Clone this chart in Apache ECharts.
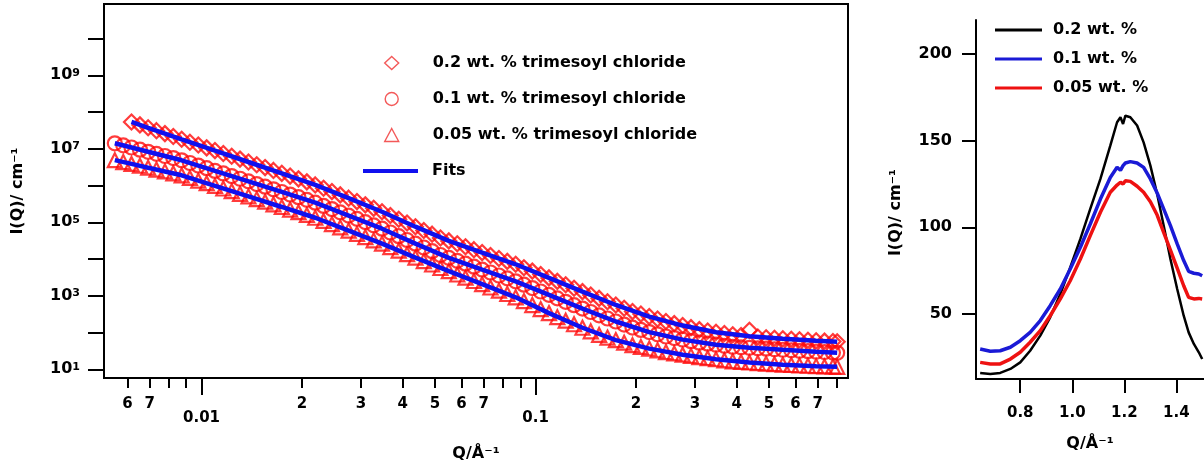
<!DOCTYPE html>
<html>
<head>
<meta charset="utf-8">
<script src="https://cdn.jsdelivr.net/npm/echarts@6/dist/echarts.min.js"></script>
<style>
  html, body { margin: 0; padding: 0; background: #fff; }
  #chart { width: 1204px; height: 468px; }
</style>
</head>
<body>
<div id="chart"></div>
<script>
// SANS curves (left), Q in 1/A, I in 1/cm
const sansQ = [0.0055, 0.00583, 0.00617, 0.00654, 0.00692, 0.00733, 0.00777, 0.00823, 0.00872, 0.00923,
  0.00978, 0.01036, 0.01097, 0.01162, 0.01231, 0.01304, 0.01382, 0.01463, 0.0155, 0.01642,
  0.01739, 0.01842, 0.01951, 0.02067, 0.0219, 0.02319, 0.02457, 0.02602, 0.02757, 0.0292,
  0.03093, 0.03276, 0.0347, 0.03676, 0.03894, 0.04124, 0.04369, 0.04628, 0.04902, 0.05192,
  0.055, 0.0583, 0.0617, 0.0654, 0.0692, 0.0733, 0.0777, 0.0823, 0.0872, 0.0923,
  0.0978, 0.1036, 0.1097, 0.1162, 0.1231, 0.1304, 0.1382, 0.1463, 0.155, 0.1642,
  0.1739, 0.1842, 0.1951, 0.2067, 0.219, 0.2319, 0.2457, 0.2602, 0.2757, 0.292,
  0.3093, 0.3276, 0.347, 0.3676, 0.3894, 0.4124, 0.4369, 0.4628, 0.4902, 0.5192,
  0.55, 0.583, 0.617, 0.654, 0.692, 0.733, 0.777, 0.80]
const sans02 = [null, null, 5.36e7, 4.47e7, 3.73e7, 3.11e7, 2.59e7, 2.16e7, 1.81e7, 1.51e7,
  1.27e7, 1.06e7, 8.94e6, 7.45e6, 6.25e6, 5.24e6, 4.37e6, 3.67e6, 3.08e6, 2.58e6,
  2.15e6, 1.81e6, 1.52e6, 1.26e6, 1.04e6, 8.47e5, 6.85e5, 5.57e5, 4.53e5, 3.66e5,
  2.98e5, 2.40e5, 1.94e5, 1.53e5, 1.21e5, 9.57e4, 7.59e4, 5.98e4, 4.75e4, 3.74e4,
  3.12e4, 2.60e4, 2.17e4, 1.80e4, 1.50e4, 1.25e4, 1.035e4, 8630, 7200, 5820,
  4700, 3800, 3070, 2470, 1990, 1610, 1300, 1050, 850, 687,
  562, 457, 372, 318, 272, 234, 200, 175, 155, 136,
  120, 110, 102, 94.2, 86.9, 83.2, 115, 75.7, 72.4, 69.8,
  67.6, 65.5, 63.5, 61.9, 60.0, 58.5, 56.8, 56.0]
const sans01 = [1.41e7, 1.24e7, 1.085e7, 9.45e6, 8.29e6, 7.27e6, 6.37e6, 5.58e6, 4.86e6, 4.11e6,
  3.49e6, 2.97e6, 2.50e6, 2.13e6, 1.81e6, 1.53e6, 1.30e6, 1.095e6, 9.30e5, 7.91e5,
  6.68e5, 5.67e5, 4.82e5, 4.07e5, 3.42e5, 2.79e5, 2.29e5, 1.86e5, 1.52e5, 1.24e5,
  1.01e5, 8.24e4, 6.70e4, 5.28e4, 4.19e4, 3.30e4, 2.62e4, 2.06e4, 1.64e4, 1.29e4,
  1.075e4, 8970, 7470, 6190, 5160, 4310, 3570, 2980, 2480, 2010,
  1620, 1310, 1060, 850, 687, 555, 449, 362, 293, 241,
  200, 165, 136, 118, 103, 89.7, 78.1, 70.7, 64.3, 58.2,
  53.0, 49.8, 46.7, 43.6, 41.0, 39.7, 38.5, 37.3, 36.4, 35.0,
  34.0, 32.9, 31.9, 31.1, 30.1, 29.4, 28.5, 28.1]
const sans005 = [4.90e6, 4.35e6, 3.88e6, 3.45e6, 3.06e6, 2.72e6, 2.43e6, 2.15e6, 1.90e6, 1.61e6,
  1.36e6, 1.16e6, 9.78e5, 8.31e5, 7.06e5, 5.96e5, 5.07e5, 4.28e5, 3.64e5, 3.09e5,
  2.61e5, 2.22e5, 1.88e5, 1.59e5, 1.33e5, 1.09e5, 8.93e4, 7.27e4, 5.95e4, 4.84e4,
  3.96e4, 3.22e4, 2.63e4, 2.12e4, 1.70e4, 1.36e4, 1.095e4, 8800, 7110, 5710,
  4670, 3800, 3110, 2530, 2070, 1680, 1380, 1120, 911, 718,
  559, 435, 338, 263, 210, 168, 135, 108, 86.4, 72.9,
  62.3, 53.0, 45.3, 40.7, 36.6, 32.9, 29.4, 27.1, 25.0, 23.2,
  21.3, 20.1, 18.8, 17.6, 16.5, 15.9, 15.3, 14.8, 14.2, 13.8,
  13.4, 13.1, 12.7, 12.5, 12.2, 12.0, 11.9, 11.7]

// model fits
const fitQ = [0.0055, 0.00617, 0.00692, 0.00872, 0.01097, 0.01382, 0.01739, 0.0219, 0.02757, 0.0347,
  0.04369, 0.055, 0.0692, 0.0872, 0.1097, 0.1382, 0.1739, 0.219, 0.2757, 0.347,
  0.4369, 0.55, 0.692, 0.80]
const fit02 = [null, 5.36e7, 3.73e7, 1.81e7, 8.94e6, 4.37e6, 2.15e6, 1.04e6, 4.53e5, 1.94e5,
  7.59e4, 3.12e4, 1.50e4, 7200, 3070, 1300, 562, 272, 155, 102,
  79.6, 67.6, 60.0, 56.0]
const fit01 = [1.41e7, 1.085e7, 8.29e6, 4.86e6, 2.50e6, 1.30e6, 6.68e5, 3.42e5, 1.52e5, 6.70e4,
  2.62e4, 1.075e4, 5160, 2480, 1060, 449, 200, 103, 64.3, 46.7,
  38.5, 34.0, 30.1, 28.1]
const fit005 = [4.90e6, 3.88e6, 3.06e6, 1.90e6, 9.78e5, 5.07e5, 2.61e5, 1.33e5, 5.95e4, 2.63e4,
  1.095e4, 4670, 2070, 911, 338, 135, 62.3, 36.6, 25.0, 18.8,
  15.3, 13.4, 12.2, 11.7]

// WAXS peak (right)
const waxsQ = [0.646, 0.685, 0.723, 0.762, 0.800, 0.838, 0.877, 0.915, 0.954, 0.992,
  1.031, 1.069, 1.108, 1.146, 1.172, 1.185, 1.195, 1.204, 1.223, 1.249,
  1.274, 1.300, 1.326, 1.351, 1.377, 1.403, 1.428, 1.447, 1.467, 1.486, 1.499]
const waxs02 = [16.0, 15.4, 16.0, 18.3, 22.1, 28.8, 37.5, 48.1, 61.5, 76.9,
  93.3, 110.6, 127.9, 147.1, 160.6, 163.5, 159.6, 164.4, 163.5, 158.7,
  149.0, 135.6, 119.2, 101.0, 81.7, 64.4, 49.0, 39.4, 32.7, 27.9, 24.0]
const waxs01 = [29.8, 28.5, 28.8, 30.8, 34.6, 39.4, 46.2, 54.8, 64.4, 76.0,
  88.5, 101.9, 116.3, 128.8, 134.6, 132.9, 135.6, 137.1, 137.9, 137.1,
  134.6, 127.9, 119.8, 110.6, 101.0, 90.4, 80.8, 74.6, 73.5, 73.1, 72.1]
const waxs005 = [22.1, 21.2, 21.2, 24.0, 27.9, 33.7, 40.4, 49.0, 58.7, 69.2,
  81.7, 95.2, 108.7, 120.2, 124.4, 126.0, 125.0, 126.9, 126.5, 123.7,
  120.2, 114.8, 107.1, 97.1, 86.9, 76.5, 66.3, 59.6, 58.7, 59.0, 58.7]

// ticks
const qMajorTicks = [0.01, 0.1]
const qMinorTicks = [0.006, 0.007, 0.008, 0.009, 0.02, 0.03, 0.04, 0.05, 0.06, 0.07, 0.08, 0.09,
  0.2, 0.3, 0.4, 0.5, 0.6, 0.7, 0.8]
const qMinorLabels = [0.006, 0.007, 0.02, 0.03, 0.04, 0.05, 0.06, 0.07, 0.2, 0.3, 0.4, 0.5, 0.6, 0.7]
const iTicks = [1e1, 1e2, 1e3, 1e4, 1e5, 1e6, 1e7, 1e8, 1e9, 1e10]
const iLabels = [1e1, 1e3, 1e5, 1e7, 1e9]
const waxsQTicks = [0.8, 1.0, 1.2, 1.4]
const waxsITicks = [50, 100, 150, 200]

const FONT = 'DejaVu Sans'
const RED = '#ff0a0a'
const BLUE = '#1010ee'

function pairs(xs, ys) {
  return xs.map((x, i) => [x, ys[i]]).filter(p => p[1] != null)
}

function txt(size) {
  return { fontFamily: FONT, fontWeight: 'bold', fontSize: size, color: '#000' }
}

const axisLine = { show: true, onZero: false, lineStyle: { color: '#000', width: 2 } }
const tickStyle = { color: '#000', width: 2 }

const redMarker = { color: 'rgba(255,255,255,0)', borderColor: RED, borderWidth: 2.2 }

const option = {
  animation: false,
  backgroundColor: '#fff',
  grid: [
    { left: 104, top: 4, right: 356, bottom: 90, show: true, borderColor: '#000', borderWidth: 2 },
    { left: 976, top: 20, right: 0, bottom: 89 }
  ],
  legend: [
    {
      // marker entries
      left: 379, top: 49, orient: 'vertical', selectedMode: false,
      itemWidth: 14, itemHeight: 13, itemGap: 18,
      itemStyle: { borderWidth: 1.4, borderColor: '#f03030' },
      data: ['0.2 wt. % trimesoyl chloride', '0.1 wt. % trimesoyl chloride',
        '0.05 wt. % trimesoyl chloride'],
      textStyle: Object.assign(txt(16), { lineHeight: 18, padding: [0, 0, 0, 29] })
    },
    {
      // fits entry
      left: 358, top: 157, orient: 'vertical', selectedMode: false,
      itemWidth: 55, itemHeight: 4,
      data: [{ name: 'Fits', icon: 'rect' }],
      textStyle: Object.assign(txt(16), { lineHeight: 18, padding: [0, 0, 0, 9] })
    },
    {
      left: 990, top: 16, orient: 'vertical', selectedMode: false,
      itemWidth: 47, itemHeight: 3, itemGap: 11,
      data: [{ name: '0.2 wt. %', icon: 'rect' }, { name: '0.1 wt. %', icon: 'rect' },
        { name: '0.05 wt. %', icon: 'rect' }],
      textStyle: Object.assign(txt(16), { lineHeight: 18, padding: [0, 0, 0, 6] })
    }
  ],
  xAxis: [
    {
      type: 'log', logBase: 10, gridIndex: 0, min: 0.005105, max: 0.862,
      name: 'Q/\u00c5\u207b\u00b9', nameLocation: 'middle', nameGap: 68, nameTextStyle: txt(16),
      axisLine: axisLine,
      axisTick: { show: true, inside: false, length: 17, lineStyle: tickStyle, customValues: qMajorTicks },
      axisLabel: { show: true, margin: 33, customValues: qMajorTicks, textStyle: txt(15),
        formatter: v => (v < 0.05 ? '0.01' : '0.1') },
      splitLine: { show: false }, minorTick: { show: false }
    },
    {
      type: 'log', logBase: 10, gridIndex: 0, min: 0.005105, max: 0.862, position: 'bottom',
      axisLine: { show: false },
      axisTick: { show: true, inside: false, length: 10, lineStyle: tickStyle, customValues: qMinorTicks },
      axisLabel: { show: true, margin: 19, customValues: qMinorLabels, textStyle: txt(15),
        formatter: v => String(Math.round(v / Math.pow(10, Math.floor(Math.log10(v) + 1e-9)))) },
      splitLine: { show: false }
    },
    {
      type: 'value', gridIndex: 1, min: 0.63, max: 1.506,
      name: 'Q/\u00c5\u207b\u00b9', nameLocation: 'middle', nameGap: 57, nameTextStyle: txt(16),
      axisLine: axisLine,
      axisTick: { show: true, inside: false, length: 14, lineStyle: tickStyle, customValues: waxsQTicks },
      axisLabel: { show: true, margin: 27, customValues: waxsQTicks, textStyle: txt(15),
        formatter: v => v.toFixed(1) },
      splitLine: { show: false }
    }
  ],
  yAxis: [
    {
      type: 'log', logBase: 10, gridIndex: 0, min: 5.8, max: 8.7e10,
      name: 'I(Q)/ cm\u207b\u00b9', nameLocation: 'middle', nameGap: 78, nameTextStyle: txt(16),
      axisLine: axisLine,
      axisTick: { show: true, inside: false, length: 16, lineStyle: tickStyle, customValues: iTicks },
      axisLabel: {
        show: true, margin: 24, customValues: iLabels,
        formatter: v => '{b|10}{s|' + Math.round(Math.log10(v)) + '}',
        rich: {
          b: txt(16),
          s: Object.assign(txt(11), { lineHeight: 8, verticalAlign: 'top' })
        }
      },
      splitLine: { show: false }
    },
    {
      type: 'value', gridIndex: 1, min: 12.5, max: 219.6,
      name: 'I(Q)/ cm\u207b\u00b9', nameLocation: 'middle', nameGap: 72,
      nameTextStyle: Object.assign(txt(16), { padding: [0, 26, 0, 0] }),
      axisLine: axisLine,
      axisTick: { show: true, inside: false, length: 14, lineStyle: tickStyle, customValues: waxsITicks },
      axisLabel: { show: true, margin: 24, customValues: waxsITicks, textStyle: txt(16) },
      splitLine: { show: false }
    }
  ],
  series: [
    // measured SANS data, hollow red markers
    { name: '0.2 wt. % trimesoyl chloride', type: 'scatter', xAxisIndex: 0, yAxisIndex: 0,
      symbol: 'diamond', symbolSize: 15, itemStyle: redMarker, data: pairs(sansQ, sans02) },
    { name: '0.1 wt. % trimesoyl chloride', type: 'scatter', xAxisIndex: 0, yAxisIndex: 0,
      symbol: 'circle', symbolSize: 14, itemStyle: redMarker, data: pairs(sansQ, sans01) },
    { name: '0.05 wt. % trimesoyl chloride', type: 'scatter', xAxisIndex: 0, yAxisIndex: 0,
      symbol: 'triangle', symbolSize: 14, itemStyle: redMarker, data: pairs(sansQ, sans005) },
    // fits
    { name: 'Fits', type: 'line', xAxisIndex: 0, yAxisIndex: 0, symbol: 'none', z: 5,
      lineStyle: { color: BLUE, width: 4.5 }, itemStyle: { color: BLUE }, data: pairs(fitQ, fit02) },
    { name: 'Fits', type: 'line', xAxisIndex: 0, yAxisIndex: 0, symbol: 'none', z: 5,
      lineStyle: { color: BLUE, width: 4.5 }, itemStyle: { color: BLUE }, data: pairs(fitQ, fit01) },
    { name: 'Fits', type: 'line', xAxisIndex: 0, yAxisIndex: 0, symbol: 'none', z: 5,
      lineStyle: { color: BLUE, width: 4.5 }, itemStyle: { color: BLUE }, data: pairs(fitQ, fit005) },
    // WAXS
    { name: '0.2 wt. %', type: 'line', xAxisIndex: 2, yAxisIndex: 1, symbol: 'none',
      lineStyle: { color: '#000', width: 2.5 }, itemStyle: { color: '#000' }, data: pairs(waxsQ, waxs02) },
    { name: '0.1 wt. %', type: 'line', xAxisIndex: 2, yAxisIndex: 1, symbol: 'none',
      lineStyle: { color: '#1a1ad6', width: 3.5 }, itemStyle: { color: '#1a1ad6' }, data: pairs(waxsQ, waxs01) },
    { name: '0.05 wt. %', type: 'line', xAxisIndex: 2, yAxisIndex: 1, symbol: 'none',
      lineStyle: { color: '#ee1111', width: 3.5 }, itemStyle: { color: '#ee1111' }, data: pairs(waxsQ, waxs005) }
  ]
}

const chart = echarts.init(document.getElementById('chart'))
chart.setOption(option)
window.addEventListener('resize', () => chart.resize())
</script>
</body>
</html>
